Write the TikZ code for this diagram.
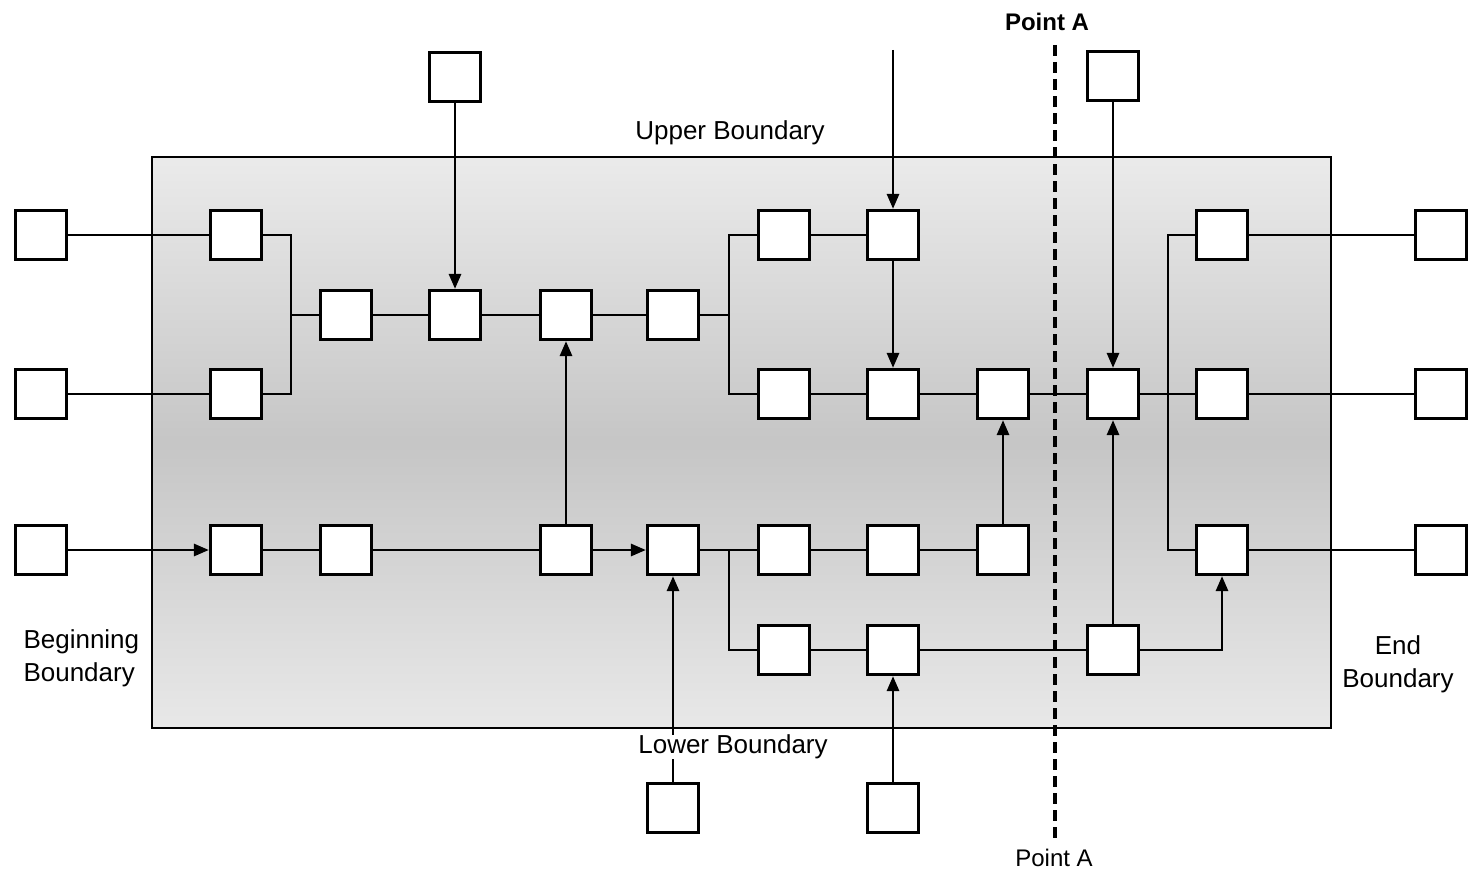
\documentclass[tikz,border=0pt]{standalone}
\usepackage{fontspec}
\setmainfont{Liberation Sans}
\usetikzlibrary{arrows.meta}
\begin{document}
\begin{tikzpicture}[x=1pt,y=-1pt,
  blk/.style={draw,fill=white,line width=3.2pt,minimum width=51pt,minimum height=49pt,inner sep=0pt},
  con/.style={line width=2.8pt},
  arr/.style={con,-{Triangle[length=15pt,width=12pt]}},
  lbl/.style={font=\fontsize{26}{33}\selectfont},
  dsh/.style={line width=4.5pt,dash pattern=on 11pt off 6pt}]
\useasboundingbox (0,0) rectangle (1475,875);
% region
\shade[top color=gray!16,bottom color=gray!18,middle color=gray!45] (152,157) rectangle (1331,728);
\draw[line width=2.4pt] (152,157) rectangle (1331,728);
% boxes
\node[blk] (L1) at (41,235) {};
\node[blk] (L2) at (41,394) {};
\node[blk] (L3) at (41,550) {};
\node[blk] (a1) at (236,235) {};
\node[blk] (a2) at (236,394) {};
\node[blk] (a3) at (236,550) {};
\node[blk] (b1) at (346,315) {};
\node[blk] (b3) at (346,550) {};
\node[blk] (c1) at (455,315) {};
\node[blk] (ct) at (455,77) {};
\node[blk] (d1) at (566,315) {};
\node[blk] (d3) at (566,550) {};
\node[blk] (e1) at (673,315) {};
\node[blk] (e3) at (673,550) {};
\node[blk] (eb) at (673,808) {};
\node[blk] (f0) at (784,235) {};
\node[blk] (f1) at (784,394) {};
\node[blk] (f3) at (784,550) {};
\node[blk] (f4) at (784,650) {};
\node[blk] (g0) at (893,235) {};
\node[blk] (g1) at (893,394) {};
\node[blk] (g3) at (893,550) {};
\node[blk] (g4) at (893,650) {};
\node[blk] (gb) at (893,808) {};
\node[blk] (h1) at (1003,394) {};
\node[blk] (h3) at (1003,550) {};
\node[blk] (i1) at (1113,394) {};
\node[blk] (i4) at (1113,650) {};
\node[blk] (it) at (1113,76) {};
\node[blk] (j0) at (1222,235) {};
\node[blk] (j1) at (1222,394) {};
\node[blk] (j3) at (1222,550) {};
\node[blk] (R0) at (1441,235) {};
\node[blk] (R1) at (1441,394) {};
\node[blk] (R3) at (1441,550) {};
% coordinates
\coordinate (ja) at (291,315);
\coordinate (jb) at (729,315);
\coordinate (jc) at (729,550);
\coordinate (jd) at (1168,394);
\coordinate (gt) at (893,50);
\coordinate (pa1) at (1055,45);
\coordinate (pa2) at (1055,842);
% connectors
\draw[con] (L1) -- (a1);
\draw[con] (L2) -- (a2);
\draw[arr] (L3) -- (a3);
\draw[con] (a1.east) -| (ja);
\draw[con] (a2.east) -| (ja);
\draw[con] (ja) -- (b1.west);
\draw[con] (b1) -- (c1);
\draw[con] (c1) -- (d1);
\draw[con] (d1) -- (e1);
\draw[arr] (ct) -- (c1);
\draw[con] (e1.east) -- (jb);
\draw[con] (jb) |- (f0.west);
\draw[con] (jb) |- (f1.west);
\draw[con] (f0) -- (g0);
\draw[arr] (gt) -- (g0);
\draw[arr] (g0) -- (g1);
\draw[con] (f1) -- (g1);
\draw[con] (g1) -- (h1);
\draw[con] (h1) -- (i1);
\draw[arr] (it) -- (i1);
\draw[con] (i1) -- (j1);
\draw[con] (j1) -- (R1);
\draw[con] (jd) |- (j0.west);
\draw[con] (jd) |- (j3.west);
\draw[con] (j0) -- (R0);
\draw[con] (j3) -- (R3);
\draw[con] (a3) -- (b3);
\draw[con] (b3) -- (d3);
\draw[arr] (d3) -- (d1);
\draw[arr] (d3) -- (e3);
\draw[arr] (eb) -- (e3);
\draw[con] (e3.east) -- (jc);
\draw[con] (jc) -- (f3.west);
\draw[con] (jc) |- (f4.west);
\draw[con] (f3) -- (g3);
\draw[con] (g3) -- (h3);
\draw[arr] (h3) -- (h1);
\draw[con] (f4) -- (g4);
\draw[arr] (gb) -- (g4);
\draw[con] (g4) -- (i4);
\draw[arr] (i4) -- (i1);
\draw[arr] (i4.east) -| (j3.south);
% point A
\draw[dsh] (pa1) -- (pa2);
% labels
\node[lbl,font=\fontsize{24}{30}\selectfont\bfseries] (pat) at (1047,22) {Point A};
\node[lbl,font=\fontsize{24}{30}\selectfont] (pab) at (1054,858) {Point A};
\node[lbl] (ub) at (730,133) {Upper Boundary};
\node[lbl,fill=white,inner sep=0pt] (lb) at (733,747) {Lower Boundary};
\node[lbl,align=left,anchor=west] (bb) at (20,658) {Beginning\\Boundary};
\node[lbl,align=center] (endb) at (1398,664) {End\\Boundary};
\end{tikzpicture}
\end{document}
